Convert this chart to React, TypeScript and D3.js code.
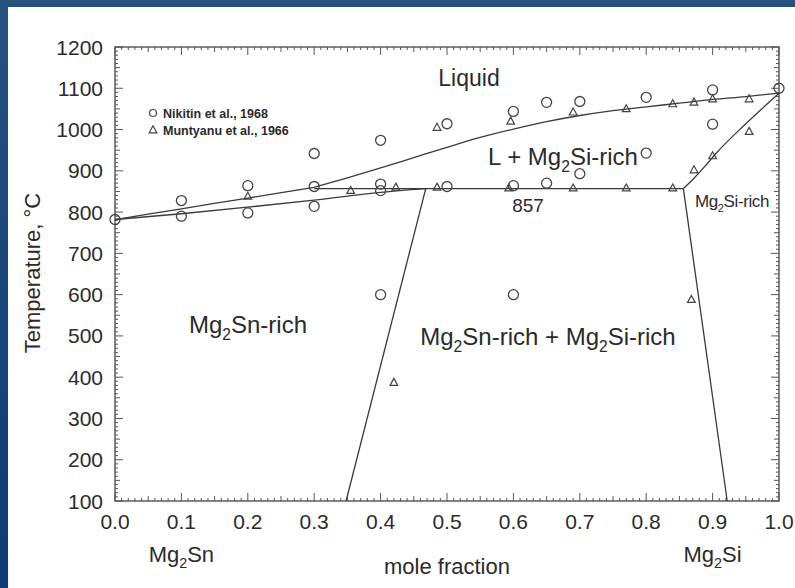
import React from "react";
import * as d3 from "d3";

// ---- data ----
const xTicks = [0, 0.1, 0.2, 0.3, 0.4, 0.5, 0.6, 0.7, 0.8, 0.9, 1.0];
const yTicks = [100, 200, 300, 400, 500, 600, 700, 800, 900, 1000, 1100, 1200];

// Nikitin et al., 1968 (circles): [mole fraction, T]
const nikitin: [number, number][] = [
  [0, 782], [0.1, 828], [0.1, 790], [0.2, 864], [0.2, 798],
  [0.3, 942], [0.3, 862], [0.3, 814], [0.4, 974], [0.4, 868], [0.4, 852], [0.4, 600],
  [0.5, 1014], [0.5, 862], [0.6, 1044], [0.6, 864], [0.6, 600],
  [0.65, 1066], [0.65, 870], [0.7, 1068], [0.7, 893], [0.8, 1078], [0.8, 943],
  [0.9, 1096], [0.9, 1013], [1.0, 1100],
];
// Muntyanu et al., 1966 (triangles)
const muntyanu: [number, number][] = [
  [0.2, 838], [0.355, 852], [0.423, 860], [0.485, 860], [0.485, 1005],
  [0.593, 858], [0.596, 1020], [0.69, 858], [0.69, 1042], [0.77, 858], [0.77, 1050],
  [0.84, 858], [0.84, 1062], [0.872, 1066], [0.872, 902], [0.9, 936], [0.9, 1074],
  [0.955, 1074], [0.955, 995], [0.42, 387], [0.868, 588],
];

// phase boundaries
const liquidusSn: [number, number][] = [[0, 782], [0.1, 808], [0.2, 834], [0.3, 860]];
const liquidusSi: [number, number][] = [
  [0.3, 860], [0.35, 883], [0.4, 907], [0.45, 932], [0.5, 957], [0.55, 981], [0.6, 1001],
  [0.65, 1019], [0.7, 1034], [0.75, 1046], [0.8, 1055], [0.85, 1064], [0.9, 1073],
  [0.95, 1080], [1.0, 1088],
];
const solidusSn: [number, number][] = [[0, 782], [0.1, 796], [0.2, 812], [0.3, 829], [0.4, 848], [0.468, 857]];
const eutectic: [number, number][] = [[0.3, 857], [0.856, 857]];
const solvusSn: [number, number][] = [[0.468, 857], [0.348, 100]];
const solvusSi: [number, number][] = [[0.856, 857], [0.922, 100]];
const solidusSi: [number, number][] = [[0.856, 857], [0.872, 882], [0.888, 910], [0.905, 942], [0.95, 1014], [1.0, 1088]];
const boundaries = [liquidusSn, liquidusSi, solidusSn, eutectic, solvusSn, solvusSi, solidusSi];

const W = 795, H = 588;
const FONT = "'Liberation Sans', Arial, Helvetica, sans-serif";
const INK = "#2b2b2b";

export default function App() {
  const x = d3.scaleLinear().domain([0, 1]).range([115, 779]);
  const y = d3.scaleLinear().domain([100, 1200]).range([501, 47]);
  const line = d3.line<[number, number]>().x(d => x(d[0])).y(d => y(d[1])).curve(d3.curveMonotoneX);
  const straight = d3.line<[number, number]>().x(d => x(d[0])).y(d => y(d[1]));

  const [x0, x1] = x.range();
  const [yb, yt] = y.range();

  const xMinor = d3.range(0, 101).map(i => i / 100);
  const yMinor = d3.range(100, 1201, 10);
  const xLen = (i: number) => (i % 10 === 0 ? 8 : i % 5 === 0 ? 5 : 3);
  const yLen = (v: number) => (v % 100 === 0 ? 8 : v % 50 === 0 ? 5 : 3);

  const tri = (cx: number, cy: number, s: number) =>
    `M${cx},${cy - s * 0.6}L${cx + s * 0.55},${cy + s * 0.4}L${cx - s * 0.55},${cy + s * 0.4}Z`;

  const sub = (size: number, base: string, rest: string) => (
    <>
      {base}
      <tspan fontSize={size * 0.65} dy={size * 0.28}>2</tspan>
      <tspan dy={-size * 0.28}>{rest}</tspan>
    </>
  );

  return (
    <svg width={W} height={H} style={{ position: "absolute", left: 0, top: 0 }} fontFamily={FONT}>
      <defs>
        <linearGradient id="bg" x1="0" y1="0" x2="0" y2="1">
          <stop offset="0" stopColor="#26517f" />
          <stop offset="1" stopColor="#0c3a74" />
        </linearGradient>
      </defs>
      <rect x={0} y={0} width={W} height={H} fill="url(#bg)" />
      <rect x={8} y={7} width={W - 8} height={H - 7} fill="#ffffff" />

      {/* frame */}
      <rect x={x0} y={yt} width={x1 - x0} height={yb - yt} fill="none" stroke="#444" strokeWidth={1.3} />

      {/* x ticks (bottom & top, inward) */}
      {xMinor.map((v, i) => (
        <g key={"xt" + i} stroke="#555" strokeWidth={1}>
          <line x1={x(v)} x2={x(v)} y1={yb} y2={yb - xLen(i)} />
          <line x1={x(v)} x2={x(v)} y1={yt} y2={yt + xLen(i)} />
        </g>
      ))}
      {/* y ticks (left & right, inward) */}
      {yMinor.map(v => (
        <g key={"yt" + v} stroke="#555" strokeWidth={1}>
          <line x1={x0} x2={x0 + yLen(v)} y1={y(v)} y2={y(v)} />
          <line x1={x1} x2={x1 - yLen(v)} y1={y(v)} y2={y(v)} />
        </g>
      ))}

      {/* tick labels */}
      {xTicks.map(v => (
        <text key={"xl" + v} x={x(v)} y={529} fontSize={21} textAnchor="middle" fill={INK}>
          {v.toFixed(1)}
        </text>
      ))}
      {yTicks.map(v => (
        <text key={"yl" + v} x={103} y={y(v) + 7.5} fontSize={21} textAnchor="end" fill={INK}>
          {v}
        </text>
      ))}

      {/* axis titles */}
      <text transform={`translate(40,273) rotate(-90)`} fontSize={22} textAnchor="middle" fill={INK}>
        Temperature, °C
      </text>
      <text x={x(0.5)} y={574} fontSize={22} textAnchor="middle" fill={INK}>mole fraction</text>
      <text x={x(0.1)} y={562} fontSize={22} textAnchor="middle" fill={INK}>{sub(22, "Mg", "Sn")}</text>
      <text x={x(0.9)} y={562} fontSize={22} textAnchor="middle" fill={INK}>{sub(22, "Mg", "Si")}</text>

      {/* phase boundaries */}
      {boundaries.map((b, i) => (
        <path key={"b" + i} d={(b.length > 2 ? line(b) : straight(b)) || ""} fill="none" stroke="#3a3a3a" strokeWidth={1.3} />
      ))}

      {/* data points */}
      {nikitin.map((d, i) => (
        <circle key={"n" + i} cx={x(d[0])} cy={y(d[1])} r={5} fill="none" stroke="#444" strokeWidth={1.3} />
      ))}
      {muntyanu.map((d, i) => (
        <path key={"m" + i} d={tri(x(d[0]), y(d[1]), 7)} fill="none" stroke="#444" strokeWidth={1.2} />
      ))}

      {/* legend */}
      <circle cx={153} cy={113} r={3.5} fill="none" stroke="#444" strokeWidth={1.2} />
      <text x={163} y={117.5} fontSize={12.5} fontWeight="bold" fill={INK}>Nikitin et al., 1968</text>
      <path d={tri(153, 130, 7)} fill="none" stroke="#444" strokeWidth={1.2} />
      <text x={163} y={134.5} fontSize={12.5} fontWeight="bold" fill={INK}>Muntyanu et al., 1966</text>

      {/* region labels */}
      <text x={469} y={86} fontSize={23} textAnchor="middle" fill={INK}>Liquid</text>
      <text x={563} y={165} fontSize={24} textAnchor="middle" fill={INK}>{sub(24, "L + Mg", "Si-rich")}</text>
      <text x={528} y={212} fontSize={19} textAnchor="middle" fill={INK}>857</text>
      <text x={732} y={207} fontSize={17} textAnchor="middle" fill={INK} letterSpacing={-0.4}>{sub(17, "Mg", "Si-rich")}</text>
      <text x={248} y={333} fontSize={24} textAnchor="middle" fill={INK}>{sub(24, "Mg", "Sn-rich")}</text>
      <text x={548} y={345} fontSize={24} textAnchor="middle" fill={INK}>{sub(24, "Mg", "Sn-rich + Mg")}
        <tspan fontSize={24 * 0.65} dy={24 * 0.28}>2</tspan>
        <tspan dy={-24 * 0.28}>Si-rich</tspan>
      </text>
    </svg>
  );
}
